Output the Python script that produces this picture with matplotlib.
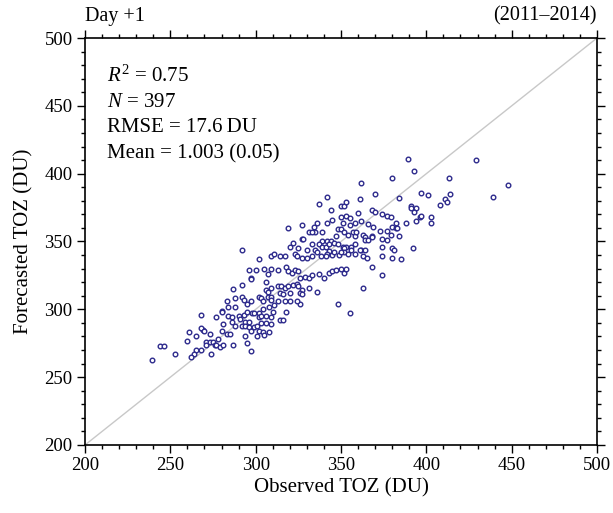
import numpy as np
import matplotlib
matplotlib.use("Agg")
import matplotlib.pyplot as plt
from matplotlib.ticker import MultipleLocator

plt.rcParams['font.family'] = ['Liberation Serif', 'DejaVu Serif']
plt.rcParams['mathtext.fontset'] = 'custom'
plt.rcParams['mathtext.rm'] = 'Liberation Serif'
plt.rcParams['mathtext.it'] = 'Liberation Serif:italic'

# observed / forecasted TOZ (DU)
obs = [292, 302,
       362, 380, 342, 370, 337, 350, 352, 353, 361, 344, 360, 368, 370, 353, 355, 374, 377, 379,
       350, 351, 345, 362, 358, 366, 327, 319, 336, 342, 355, 348, 350, 352, 369, 373, 377, 380,
       334, 335, 331, 333, 339, 347, 354, 357, 358, 363, 364, 368, 359, 374, 377, 327, 328, 322,
       333, 339, 342, 344, 337, 339, 341, 343, 346, 348, 351, 353, 356, 358, 364, 366, 368, 362,
       364, 374, 380, 381, 320, 325, 330, 335, 336, 352, 352, 354, 343, 342, 345, 346, 349, 350,
       356, 358, 361, 363, 365, 374, 309, 311, 314, 317, 323, 324, 327, 330, 333, 338, 341,
       389, 429, 393, 413, 448, 397, 401, 384, 414, 439, 411, 412, 408, 391, 391, 394, 393, 396,
       397, 403, 403, 394, 388, 382, 382, 383, 379, 384, 392, 380, 385,
       296, 300, 297, 297, 305, 307, 306, 292, 287, 306, 307, 283, 288, 292, 293, 295, 297, 302,
       303, 304, 307, 284, 288, 280, 280, 268, 277, 284, 286, 290, 293, 295, 298, 299, 302, 304,
       286, 291, 294, 296, 302, 303, 306, 281, 288, 292, 294, 296, 299, 301, 303, 306, 302, 304,
       308, 269, 268, 270, 261, 280, 283, 285, 297, 294, 301, 265, 273, 278, 260, 271, 271, 273,
       275, 276, 277, 279, 281, 287, 295, 265, 268, 264, 262, 244, 246, 253, 274, 297, 239,
       309, 313, 318, 319, 321, 323, 325, 326, 329, 331, 333, 337, 340, 343, 345, 347, 350, 352,
       353, 368, 374, 309, 313, 315, 317, 319, 322, 324, 325, 327, 326, 327, 331, 336, 314, 316,
       320, 309, 309, 363, 313, 317, 311, 308, 326, 324, 320, 318, 310, 309, 309, 314, 316, 305,
       348, 355]
fcst = [344, 337,
        393, 397, 383, 385, 378, 376, 376, 379, 381, 373, 371, 373, 372, 369, 367, 370, 369, 368,
        368, 364, 366, 365, 364, 363, 362, 360, 364, 364, 362, 359, 359, 357, 361, 358, 358, 361,
        361, 357, 357, 357, 357, 354, 355, 357, 354, 355, 353, 354, 357, 352, 351, 352, 352, 349,
        348, 350, 350, 350, 348, 346, 346, 348, 349, 348, 346, 346, 346, 348, 351, 351, 353, 344,
        344, 346, 345, 344, 346, 345, 344, 344, 342, 345, 342, 341, 343, 341, 340, 342, 340, 342,
        344, 341, 344, 339, 338, 339, 339, 341, 339, 339, 341, 339, 338, 338, 339, 339, 339,
        411, 410, 402, 397, 392, 386, 384, 382, 385, 383, 381, 379, 377, 376, 375, 375, 372, 368,
        369, 368, 364, 365, 364, 364, 360, 360, 355, 354, 345, 338, 337,
        329, 329, 323, 322, 330, 326, 320, 318, 315, 314, 313, 306, 308, 309, 307, 304, 306, 309,
        308, 306, 309, 302, 302, 299, 298, 296, 294, 295, 294, 295, 296, 298, 297, 297, 297, 300,
        291, 293, 291, 291, 294, 295, 295, 289, 288, 288, 288, 287, 287, 288, 290, 290, 284, 283,
        283, 285, 286, 284, 283, 284, 282, 282, 284, 280, 280, 280, 282, 278, 277, 276, 274, 276,
        276, 274, 274, 272, 274, 274, 275, 270, 270, 267, 265, 273, 273, 267, 267, 269, 263,
        330, 329, 331, 328, 327, 329, 328, 323, 324, 323, 325, 326, 323, 327, 328, 329, 330, 327,
        330, 331, 325, 316, 317, 317, 316, 317, 318, 319, 317, 314, 312, 311, 316, 313, 312, 311,
        312, 309, 307, 316, 306, 306, 303, 302, 304, 306, 306, 298, 298, 294, 289, 292, 292, 281,
        304, 297]

stats = [r"$R^2$ = 0.75", r"$N$ = 397", "RMSE = 17.6\u2009DU", "Mean = 1.003 (0.05)"]

fig = plt.figure(figsize=(6.13, 5.13), dpi=100)
ax = fig.add_axes([0.1387, 0.1326, 0.8352, 0.7933])

ax.plot([200, 500], [200, 500], color='#c8c8c8', lw=1.0, zorder=1)
ax.scatter(obs, fcst, s=11, facecolors='white', edgecolors='#2d2a8c', linewidths=1.0, zorder=2)

ax.set_xlim(200, 500)
ax.set_ylim(200, 500)
ax.xaxis.set_major_locator(MultipleLocator(50))
ax.yaxis.set_major_locator(MultipleLocator(50))
ax.xaxis.set_minor_locator(MultipleLocator(10))
ax.yaxis.set_minor_locator(MultipleLocator(10))
ax.tick_params(which='both', direction='out', top=True, right=True, width=1.0, labelsize=13.5)
ax.tick_params(which='major', length=6, pad=3)
ax.tick_params(which='minor', length=3)
for sp in ax.spines.values():
    sp.set_linewidth(1.2)

ax.set_xlabel("Observed TOZ (DU)", fontsize=15, labelpad=3)
ax.set_ylabel("Forecasted TOZ (DU)", fontsize=15, labelpad=8)

ax.text(0.0, 1.03, "Day +1", transform=ax.transAxes, fontsize=14.5, ha='left', va='bottom')
ax.text(1.0, 1.03, "(2011\u20132014)", transform=ax.transAxes, fontsize=14.5, ha='right', va='bottom')

for i, s in enumerate(stats):
    ax.text(0.043, 0.905 - i * 0.063, s, transform=ax.transAxes, fontsize=15, ha='left', va='center')

fig.savefig("out.png", dpi=100)
